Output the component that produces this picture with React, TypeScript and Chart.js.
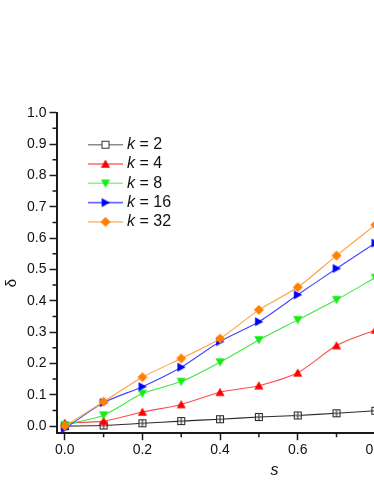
import React, { useEffect, useRef } from 'react';
import { Chart, registerables } from 'chart.js';

Chart.register(...registerables);

// ---- data ----
const sValues = [0, 0.1, 0.2, 0.3, 0.4, 0.5, 0.6, 0.7, 0.8];
const kLabels = ['2', '4', '8', '16', '32'];
const deltaK2 = [0, 0.002, 0.009, 0.016, 0.022, 0.029, 0.034, 0.041, 0.049];
const deltaK4 = [0.01, 0.016, 0.045, 0.069, 0.108, 0.129, 0.17, 0.257, 0.307];
const deltaK8 = [0.004, 0.035, 0.104, 0.142, 0.204, 0.275, 0.339, 0.403, 0.474];
const deltaK16 = [-0.008, 0.075, 0.126, 0.188, 0.27, 0.333, 0.419, 0.503, 0.584];
const deltaK32 = [0, 0.078, 0.156, 0.216, 0.279, 0.371, 0.443, 0.544, 0.642];
const xTickValues = [0, 0.2, 0.4, 0.6, 0.8, 1.0];
const yTickValues = [0, 0.1, 0.2, 0.3, 0.4, 0.5, 0.6, 0.7, 0.8, 0.9, 1.0];
const xMinorTicks = [0.1, 0.3, 0.5, 0.7, 0.9];
const yMinorTicks = [0.05, 0.15, 0.25, 0.35, 0.45, 0.55, 0.65, 0.75, 0.85, 0.95];
const xTitle = 's';
const yTitle = 'δ';

const FONT = "'Liberation Sans', Arial, Helvetica, sans-serif";
const AXIS = '#1a1a1a';

type Kind = 'squareCross' | 'square' | 'triUp' | 'triDown' | 'triRight' | 'diamond';

function makeMarker(kind: Kind, color: string): HTMLCanvasElement {
  const c = document.createElement('canvas');
  c.width = 12;
  c.height = 12;
  const g = c.getContext('2d')!;
  g.lineWidth = 1;
  if (kind === 'squareCross' || kind === 'square') {
    g.fillStyle = '#ffffff';
    g.fillRect(2.5, 2.5, 7, 7);
    g.strokeStyle = color;
    g.strokeRect(2.5, 2.5, 7, 7);
    if (kind === 'squareCross') {
      g.beginPath();
      g.moveTo(6, 2.5);
      g.lineTo(6, 9.5);
      g.moveTo(2.5, 6);
      g.lineTo(9.5, 6);
      g.stroke();
    }
    return c;
  }
  g.fillStyle = color;
  g.beginPath();
  if (kind === 'triUp') {
    g.moveTo(6, 1.5);
    g.lineTo(10.6, 9.8);
    g.lineTo(1.4, 9.8);
  } else if (kind === 'triDown') {
    g.moveTo(1.4, 2.2);
    g.lineTo(10.6, 2.2);
    g.lineTo(6, 10.5);
  } else if (kind === 'triRight') {
    g.moveTo(2.2, 1.4);
    g.lineTo(10.5, 6);
    g.lineTo(2.2, 10.6);
  } else {
    g.moveTo(6, 1);
    g.lineTo(11, 6);
    g.lineTo(6, 11);
    g.lineTo(1, 6);
  }
  g.closePath();
  g.fill();
  return c;
}

export default function App() {
  const ref = useRef<HTMLCanvasElement | null>(null);

  useEffect(() => {
    if (!ref.current) return;
    const markers = [
      makeMarker('squareCross', '#222222'),
      makeMarker('triUp', '#ff0000'),
      makeMarker('triDown', '#11ee11'),
      makeMarker('triRight', '#0000ff'),
      makeMarker('diamond', '#ff8000'),
    ];
    const legendMarkers = [
      makeMarker('square', '#333333'),
      markers[1],
      markers[2],
      markers[3],
      markers[4],
    ];
    const lineColors = ['#2a2a2a', '#ff4a4a', '#3ee83e', '#4444ff', '#ffa040'];
    const legendLineColors = ['#8a8a8a', '#ff6a6a', '#8af58a', '#6a6aff', '#ffc080'];
    const series = [deltaK2, deltaK4, deltaK8, deltaK16, deltaK32];

    const datasets = series.map((vals, i) => ({
      label: 'k = ' + kLabels[i],
      data: vals.map((v, j) => ({ x: sValues[j], y: v })),
      borderColor: lineColors[i],
      backgroundColor: lineColors[i],
      borderWidth: 1.1,
      pointStyle: markers[i] as any,
      pointRadius: 5,
      tension: 0.25,
      order: 4 - i,
      clip: false as any,
    }));

    const extrasPlugin = {
      id: 'extras',
      afterDraw(chart: any) {
        const ctx = chart.ctx;
        const xs = chart.scales.x;
        const ys = chart.scales.y;
        const area = chart.chartArea;
        ctx.save();
        // minor ticks
        ctx.strokeStyle = AXIS;
        ctx.lineWidth = 1.5;
        ctx.beginPath();
        xMinorTicks.forEach((v) => {
          const px = xs.getPixelForValue(v);
          ctx.moveTo(px, area.bottom);
          ctx.lineTo(px, area.bottom + 4.5);
        });
        yMinorTicks.forEach((v) => {
          const py = ys.getPixelForValue(v);
          ctx.moveTo(area.left, py);
          ctx.lineTo(area.left - 4.5, py);
        });
        ctx.stroke();
        // y title
        ctx.save();
        ctx.translate(12, 283);
        ctx.rotate(-Math.PI / 2);
        ctx.font = '15px ' + FONT;
        ctx.fillStyle = '#111111';
        ctx.textAlign = 'center';
        ctx.textBaseline = 'middle';
        ctx.fillText(yTitle, 0, 0);
        ctx.restore();
        // legend
        const x0 = 88;
        const x1 = 123;
        const mx = 105.5;
        const tx = 127;
        const y0 = 144.7;
        const dy = 19.3;
        chart.data.datasets.forEach((ds: any, i: number) => {
          const y = y0 + i * dy;
          ctx.strokeStyle = legendLineColors[i];
          ctx.lineWidth = 1.6;
          ctx.beginPath();
          ctx.moveTo(x0, y);
          ctx.lineTo(x1, y);
          ctx.stroke();
          ctx.drawImage(legendMarkers[i], mx - 6, y - 6);
          ctx.fillStyle = '#111111';
          ctx.textBaseline = 'middle';
          ctx.textAlign = 'left';
          ctx.font = 'italic 16px ' + FONT;
          ctx.fillText('k', tx, y);
          const kw = ctx.measureText('k').width;
          ctx.font = '16px ' + FONT;
          ctx.fillText(' = ' + kLabels[i], tx + kw, y);
        });
        ctx.restore();
      },
    };

    const chart = new Chart(ref.current, {
      type: 'line',
      data: { datasets: datasets as any },
      options: {
        animation: false,
        responsive: false,
        devicePixelRatio: 1,
        layout: { padding: { top: 112.7, right: 28.2, left: 0, bottom: 0 } },
        plugins: { legend: { display: false }, tooltip: { enabled: false } },
        scales: {
          x: {
            type: 'linear',
            min: -0.02,
            max: 1.1,
            afterBuildTicks: (scale: any) => {
              scale.ticks = xTickValues.map((v) => ({ value: v }));
            },
            afterFit: (scale: any) => {
              scale.height = 51.3;
            },
            ticks: {
              callback: (v: any) => Number(v).toFixed(1),
              font: { family: FONT, size: 14 },
              color: '#111111',
              padding: 2,
              maxRotation: 0,
              autoSkip: false,
            },
            grid: {
              drawOnChartArea: false,
              drawTicks: true,
              tickLength: 7.5,
              tickColor: AXIS,
              tickWidth: 1.5,
            },
            border: { display: true, color: AXIS, width: 2 },
            title: {
              display: true,
              text: xTitle,
              font: { family: FONT, size: 16, style: 'italic' },
              color: '#111111',
              padding: { top: 0, bottom: 3.4 },
            },
          },
          y: {
            type: 'linear',
            min: -0.021,
            max: 1.0,
            afterBuildTicks: (scale: any) => {
              scale.ticks = yTickValues.map((v) => ({ value: v }));
            },
            afterFit: (scale: any) => {
              scale.width = 57;
            },
            ticks: {
              callback: (v: any) => Number(v).toFixed(1),
              font: { family: FONT, size: 14 },
              color: '#111111',
              padding: 3,
              autoSkip: false,
            },
            grid: {
              drawOnChartArea: false,
              drawTicks: true,
              tickLength: 7.5,
              tickColor: AXIS,
              tickWidth: 1.5,
            },
            border: { display: true, color: AXIS, width: 2 },
          },
        },
      },
      plugins: [extrasPlugin],
    });
    return () => chart.destroy();
  }, []);

  return (
    <div
      style={{
        position: 'absolute',
        left: 0,
        top: 0,
        width: 374,
        height: 484,
        overflow: 'hidden',
        background: '#ffffff',
      }}
    >
      <canvas ref={ref} width={520} height={484} style={{ display: 'block', width: 520, height: 484 }} />
    </div>
  );
}
